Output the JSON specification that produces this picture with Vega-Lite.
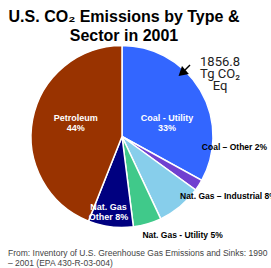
{
  "$schema": "https://vega.github.io/schema/vega-lite/v6.json",
  "width": 271,
  "height": 268,
  "padding": 0,
  "autosize": "none",
  "background": "white",
  "config": {"view": {"stroke": null}, "font": "Liberation Sans"},
  "data": {"values": [
    {"category": "Coal - Utility", "share": 33, "rank": 1, "label": "Coal - Utility\n33%"},
    {"category": "Coal - Other", "share": 2, "rank": 2, "label": "Coal – Other 2%"},
    {"category": "Nat. Gas - Industrial", "share": 8, "rank": 3, "label": "Nat. Gas – Industrial 8%"},
    {"category": "Nat. Gas - Utility", "share": 5, "rank": 4, "label": "Nat. Gas - Utility 5%"},
    {"category": "Nat. Gas - Other", "share": 8, "rank": 5, "label": "Nat. Gas\nOther 8%"},
    {"category": "Petroleum", "share": 44, "rank": 6, "label": "Petroleum\n44%"}
  ]},
  "encoding": {
    "theta": {"field": "share", "type": "quantitative", "stack": true},
    "order": {"field": "rank", "type": "quantitative"},
    "x": {"value": 122},
    "y": {"value": 136.5}
  },
  "layer": [
    {
      "mark": {"type": "arc", "outerRadius": 91, "stroke": "white", "strokeWidth": 1.5},
      "encoding": {
        "color": {"field": "category", "type": "nominal", "legend": null,
          "scale": {"domain": ["Coal - Utility", "Coal - Other", "Nat. Gas - Industrial", "Nat. Gas - Utility", "Nat. Gas - Other", "Petroleum"],
                    "range": ["#3366FF", "#7040D0", "#87CEEB", "#40C98A", "#000080", "#993300"]}}
      }
    },
    {
      "mark": {"type": "text", "radius": 50, "dx": 2, "dy": 7, "color": "white", "fontWeight": "bold", "fontSize": 9, "lineBreak": "\n", "lineHeight": 10, "align": "center", "baseline": "middle"},
      "encoding": {"text": {"condition": {"test": "datum.rank == 1", "field": "label"}, "value": ""}}
    },
    {
      "mark": {"type": "text", "radius": 47, "dx": 0, "dy": -10, "color": "white", "fontWeight": "bold", "fontSize": 9, "lineBreak": "\n", "lineHeight": 10, "align": "center", "baseline": "middle"},
      "encoding": {"text": {"condition": {"test": "datum.rank == 6", "field": "label"}, "value": ""}}
    },
    {
      "mark": {"type": "text", "radius": 76, "dx": -4, "dy": -5, "color": "white", "fontWeight": "bold", "fontSize": 9, "lineBreak": "\n", "lineHeight": 10, "align": "center", "baseline": "middle"},
      "encoding": {"text": {"condition": {"test": "datum.rank == 5", "field": "label"}, "value": ""}}
    },
    {
      "mark": {"type": "text", "radius": 91, "dx": 3, "dy": -38, "color": "black", "fontWeight": "bold", "fontSize": 8.5, "align": "left", "baseline": "middle"},
      "encoding": {"text": {"condition": {"test": "datum.rank == 2", "field": "label"}, "value": ""}}
    },
    {
      "mark": {"type": "text", "radius": 91, "dx": 0, "dy": -11, "color": "black", "fontWeight": "bold", "fontSize": 8.5, "align": "left", "baseline": "middle"},
      "encoding": {"text": {"condition": {"test": "datum.rank == 3", "field": "label"}, "value": ""}}
    },
    {
      "mark": {"type": "text", "radius": 91, "dx": -5, "dy": 11, "color": "black", "fontWeight": "bold", "fontSize": 8.5, "align": "left", "baseline": "middle"},
      "encoding": {"text": {"condition": {"test": "datum.rank == 4", "field": "label"}, "value": ""}}
    },
    {
      "data": {"values": [{}]},
      "mark": {"type": "text", "text": ["U.S. CO₂ Emissions by Type &", "Sector in 2001"], "lineHeight": 19, "fontSize": 16, "fontWeight": "bold", "color": "black", "align": "center", "baseline": "alphabetic"},
      "encoding": {"x": {"value": 124}, "y": {"value": 21.7}, "theta": null, "order": null}
    },
    {
      "data": {"values": [{}]},
      "mark": {"type": "text", "text": ["1856.8", "Tg CO₂", "Eq"], "fontSize": 13, "lineHeight": 12, "font": "Roboto", "color": "#222222", "align": "center", "baseline": "middle"},
      "encoding": {"x": {"value": 220}, "y": {"value": 62}, "theta": null, "order": null}
    },
    {
      "data": {"values": [{}]},
      "mark": {"type": "text", "text": ["From: Inventory of U.S. Greenhouse Gas Emissions and Sinks: 1990", "– 2001 (EPA 430-R-03-004)"], "fontSize": 8.5, "lineHeight": 10, "color": "#444444", "align": "left", "baseline": "middle"},
      "encoding": {"x": {"value": 8}, "y": {"value": 253}, "theta": null, "order": null}
    },
    {
      "data": {"values": [{}]},
      "mark": {"type": "rule", "color": "black", "strokeWidth": 1.5},
      "encoding": {"x": {"value": 185}, "y": {"value": 70}, "x2": {"value": 190}, "y2": {"value": 65}, "theta": null, "order": null}
    },
    {
      "data": {"values": [{}]},
      "mark": {"type": "point", "shape": "triangle-up", "filled": true, "color": "black", "opacity": 1, "size": 110, "angle": 229},
      "encoding": {"x": {"value": 182}, "y": {"value": 73}, "theta": null, "order": null}
    }
  ]
}
